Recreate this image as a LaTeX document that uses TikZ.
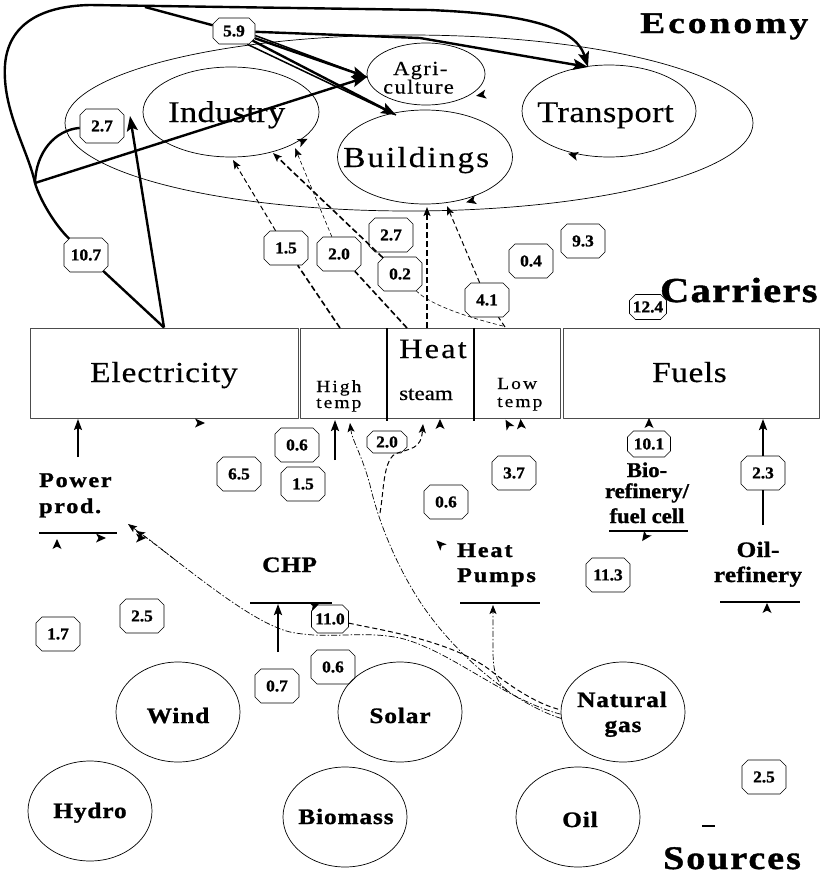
\documentclass[tikz,border=0pt]{standalone}
\usepackage{fontspec}
\setmainfont{Liberation Serif}
\usetikzlibrary{shapes.geometric,shapes.misc,arrows.meta}
\newcommand\FS[2]{\addfontfeatures{FakeStretch=#1,LetterSpace=#2,FakeBold=0.4}}
\newcommand\FB[2]{\addfontfeatures{FakeStretch=#1,LetterSpace=#2,FakeBold=1.2}}
\newcommand\fs[1]{\fontsize{#1}{#1}\selectfont}
\tikzset{
 ell/.style={draw, ellipse, line width=0.7pt, inner sep=0pt},
 src/.style={ell, minimum width=124pt, minimum height=100pt},
 cbox/.style={draw=black!70, line width=1pt, rectangle, inner sep=0pt},
 lab/.style={draw, line width=0.6pt, chamfered rectangle, chamfered rectangle sep=3pt, inner sep=0pt, minimum width=44pt, minimum height=34pt, font=\fs{16.5}\bfseries\FB{1.05}{0}},
 thk/.style={line width=2.4pt},
 tipL/.style={-{Stealth[length=15pt,width=11pt,inset=3pt]}},
 tipS/.style={-{Stealth[length=9pt,width=7pt,inset=2pt]}},
 tipM/.style={-{Stealth[length=11pt,width=8pt,inset=2pt]}},
 dsh/.style={line width=0.6pt, dash pattern=on 4pt off 2.5pt},
 dsm/.style={line width=1pt, dash pattern=on 5pt off 3pt},
 dshk/.style={line width=1.6pt, dash pattern=on 6pt off 3pt},
 ddot/.style={line width=0.7pt, dash pattern=on 6pt off 2pt on 1.5pt off 2pt},
 txt/.style={inner sep=0pt, anchor=base west},
 ctxt/.style={inner sep=0pt, anchor=base},
 srct/.style={ctxt, font=\fs{22}\bfseries\FB{1.15}{4}},
 tk/.pic={\fill (5,0) -- (-5,-4.5) -- (-2.5,0) -- (-5,4.5) -- cycle;}
}
\begin{document}
\begin{tikzpicture}[x=1pt,y=-1pt,line join=round]
\useasboundingbox (0,0) rectangle (821,878);

% ---------- Economy ----------
\node[ell, minimum width=688pt, minimum height=176pt] (eco) at (409,123) {};
\node[ell, minimum width=176pt, minimum height=90pt] (ind) at (231,112) {};
\node[ell, minimum width=118pt, minimum height=62pt] (agr) at (426,74) {};
\node[ell, minimum width=175pt, minimum height=94pt] (bui) at (425,157) {};
\node[ell, minimum width=174pt, minimum height=92pt] (tra) at (609,111) {};
\node[txt, font=\fs{30}\FS{1.15}{1}] (tind) at (168,122) {Industry};
\node[txt, font=\fs{20}\FS{1.12}{7}] (tag1) at (393,75) {Agri-};
\node[txt, font=\fs{20}\FS{1.12}{7}] (tag2) at (383,93.5) {culture};
\node[txt, font=\fs{29}\FS{1.15}{7}] (tbu) at (343,167) {Buildings};
\node[txt, font=\fs{30}\FS{1.15}{1.5}] (ttr) at (537,122) {Transport};
\node[txt, font=\fs{30}\bfseries\FB{1.25}{10}] (teco) at (640,33) {Economy};
\node[txt, font=\fs{35}\bfseries\FB{1.15}{4}] (tcar) at (660,302) {Carriers};
\node[txt, font=\fs{33}\bfseries\FB{1.15}{6}] (tsrc) at (663,869) {Sources};

% ---------- Carriers ----------
\node[cbox, minimum width=268pt, minimum height=90pt] (elec) at (164,373) {};
\node[cbox, minimum width=260pt, minimum height=90pt] (heat) at (430,373) {};
\node[cbox, minimum width=256pt, minimum height=90pt] (fuel) at (691,373) {};
\draw[line width=2pt] (387,328) -- (387,421);
\draw[line width=2pt] (474,328) -- (474,421);
\node[txt, font=\fs{29}\FS{1.15}{3}] at (90,382) {Electricity};
\node[txt, font=\fs{28}\FS{1.15}{8}] at (399,358) {Heat};
\node[txt, font=\fs{17}\FS{1.15}{12}] at (316,392) {High};
\node[txt, font=\fs{17}\FS{1.15}{12}] at (316,408) {temp};
\node[txt, font=\fs{20}\FS{1.15}{0}] at (399,400) {steam};
\node[txt, font=\fs{17}\FS{1.15}{12}] at (497,389) {Low};
\node[txt, font=\fs{17}\FS{1.15}{12}] at (497,407) {temp};
\node[txt, font=\fs{29}\FS{1.15}{2}] at (652,382) {Fuels};

% ---------- Processes ----------
\node[txt, font=\fs{21}\bfseries\FB{1.15}{8}] at (39,487) {Power};
\node[txt, font=\fs{21}\bfseries\FB{1.15}{8}] at (39,513) {prod.};
\node[txt, font=\fs{22}\bfseries\FB{1.15}{3}] at (262,572) {CHP};
\node[txt, font=\fs{21}\bfseries\FB{1.15}{9}] at (457,557) {Heat};
\node[txt, font=\fs{21}\bfseries\FB{1.15}{9}] at (457,582) {Pumps};
\node[ctxt, font=\fs{21}\bfseries\FB{1.08}{0}] at (647,477) {Bio-};
\node[ctxt, font=\fs{21}\bfseries\FB{1.08}{0}] at (647,498) {refinery/};
\node[ctxt, font=\fs{21}\bfseries\FB{1.08}{0}] at (647,523) {fuel cell};
\node[ctxt, font=\fs{22}\bfseries\FB{1.15}{1}] at (758,557) {Oil-};
\node[ctxt, font=\fs{22}\bfseries\FB{1.15}{1}] at (758,582) {refinery};
\draw[line width=1.6pt] (39,533) -- (117,533);
\draw[line width=1.6pt] (250,603) -- (332,603);
\draw[line width=1.6pt] (460,603) -- (540,603);
\draw[line width=1.6pt] (609,531) -- (688,531);
\draw[line width=1.6pt] (720,602) -- (800,602);
\draw[line width=1.4pt] (702,826) -- (715,826);

% ---------- Sources ----------
\node[src] (wind) at (178,712) {};
\node[src] (hydro) at (90,811) {};
\node[src] (solar) at (400,712) {};
\node[src] (bio) at (345,817) {};
\node[src] (ng) at (623,712) {};
\node[src] (oil) at (578,817) {};
\node[srct] at (178,723) {Wind};
\node[srct] at (90,818) {Hydro};
\node[srct] at (400,723) {Solar};
\node[srct] at (346,824) {Biomass};
\node[srct] at (622,707) {Natural};
\node[srct] at (623,732) {gas};
\node[srct] at (580,827) {Oil};

% ---------- Value labels ----------
\node[lab, minimum width=42pt, minimum height=26pt] (l59) at (234,31) {5.9};
\node[lab] (l27a) at (102,126) {2.7};
\node[lab] (l107) at (86,255) {10.7};
\node[lab] (l15a) at (286,248) {1.5};
\node[lab] (l20a) at (339,254) {2.0};
\node[lab] (l27b) at (391,235) {2.7};
\node[lab] (l02) at (400,274) {0.2};
\node[lab] (l41) at (487,300) {4.1};
\node[lab] (l04) at (531,261) {0.4};
\node[lab] (l93) at (583,241) {9.3};
\node[lab, minimum width=37pt, minimum height=25pt] (l124) at (648,307) {12.4};
\node[lab] (l06a) at (297,445) {0.6};
\node[lab] (l65) at (239,474) {6.5};
\node[lab] (l15b) at (303,484) {1.5};
\node[lab, minimum width=40pt, minimum height=22pt] (l20b) at (387,442) {2.0};
\node[lab] (l37) at (514,473) {3.7};
\node[lab] (l06b) at (446,502) {0.6};
\node[lab, minimum width=43pt, minimum height=26pt] (l101) at (649,444) {10.1};
\node[lab] (l23) at (763,473) {2.3};
\node[lab] (l113) at (608,575) {11.3};
\node[lab] (l25a) at (142,616) {2.5};
\node[lab] (l17) at (58,634) {1.7};
\node[lab, minimum width=37pt, minimum height=28pt] (l110) at (330,619) {11.0};
\node[lab] (l07) at (277,686) {0.7};
\node[lab] (l06c) at (333,667) {0.6};
\node[lab] (l25b) at (764,777) {2.5};

% ---------- Electricity flows (thick) ----------
\coordinate (c1) at (35,183);
\coordinate (br) at (145,7);
\coordinate (top1) at (90,5);
\coordinate (top2) at (430,10);
\coordinate (mid1) at (420,38);
\coordinate (trTip) at (588,67);
\coordinate (agTip) at (367,77);
\coordinate (buTip) at (396,115);
\coordinate (inL) at (130,116);
\draw[thk] (elec.north) -- (l107);
\draw[thk, tipL] (l107) .. controls (55,225) and (40,200) .. (c1)
  .. controls (28,150) and (2,110) .. (5,65)
  .. controls (8,25) and (40,6) .. (top1) -- (top2)
  .. controls (520,14) and (575,25) .. (trTip);
\draw[thk] (c1) .. controls (36,152) and (55,130) .. (l27a);
\draw[thk, tipL] (c1) -- (agTip);
\draw[thk, tipL] (elec.north) -- (inL);
\draw[thk] (br) -- (l59);
\draw[thk, tipL] (l59) -- (mid1) -- (trTip);
\draw[thk, tipL] (l59) -- (agTip);
\draw[thk, tipL] (l59) -- (buTip);
\draw[line width=1.5pt] (l59.-12) -- (agTip);
\draw[line width=1.5pt] (l59.-45) -- (buTip);

% ---------- Heat flows (dashed) ----------
\coordinate (hA) at (340,328);
\coordinate (hB) at (407,328);
\coordinate (hC) at (503,326);
\coordinate (hD) at (427,328);
\coordinate (hE) at (505,327);
\coordinate (iA) at (233,160);
\coordinate (iB) at (273,153);
\coordinate (iC) at (295,148);
\coordinate (bA) at (427,207);
\coordinate (bB) at (447,206);
\draw[dshk] (hA) -- (l15a);
\draw[dsm, tipS] (l15a) -- (iA);
\draw[dshk] (hB) -- (l20a);
\draw[dsh, tipS] (l20a) -- (iC);
\draw[dsh] (hC) .. controls (470,318) and (430,305) .. (l02);
\draw[dshk, tipS] (l02) -- (iB);
\draw[dshk, tipS] (hD) -- (bA);
\draw[dsm] (hE) -- (l41);
\draw[dsm, tipS] (l41) -- (bB);

% ---------- Lower arrows ----------
\coordinate (ppA) at (78,457);
\coordinate (ppB) at (78,419);
\draw[line width=1.4pt, tipM] (ppA) -- (ppB);
\coordinate (htA) at (335,460);
\coordinate (htB) at (335,420);
\draw[line width=2pt, tipM] (htA) -- (htB);
\coordinate (chA) at (278,652);
\coordinate (chB) at (278,604);
\draw[line width=2pt, tipM] (chA) -- (chB);
\coordinate (orA) at (763,525);
\coordinate (orB) at (763,419);
\draw[line width=2pt] (orA) -- (l23);
\draw[line width=2pt, tipM] (l23) -- (orB);

% natural gas flows
\coordinate (pjA) at (128,524);
\coordinate (pjB) at (136,531);
\coordinate (pjC) at (178,562);
\coordinate (hiTip) at (350,423);
\coordinate (stA) at (380,513);
\coordinate (stTip) at (423,424);
\coordinate (hpA) at (507,690);
\coordinate (hpB) at (493,650);
\coordinate (hpTip) at (493,605);
\draw[ddot, tipS] (ng.182) .. controls (505,700) and (450,650) .. (400,638)
  .. controls (360,630) and (330,640) .. (290,632)
  .. controls (250,622) and (190,570) .. (pjA);
\draw[dsh, tipS] (pjC) .. controls (160,548) and (148,538) .. (pjB);
\draw[dsm] (l110) .. controls (380,630) and (450,640) .. (490,670)
  .. controls (515,690) and (540,705) .. (ng.178);
\draw[ddot, tipS] (ng.186) .. controls (510,702) and (450,650) .. (417,597)
  .. controls (395,562) and (378,520) .. (370,485)
  .. controls (362,455) and (352,440) .. (hiTip);
\draw[dsm, tipS] (stA) .. controls (384,490) and (383,462) .. (395,454)
  .. controls (410,448) and (421,450) .. (stTip);
\draw[ddot, tipS] (hpA) .. controls (495,682) and (493,668) .. (hpB) -- (hpTip);

% ---------- small arrowheads ----------
\pic[rotate=25] at (303,141) {tk};
\pic[rotate=190] at (481,95) {tk};
\pic[rotate=165] at (573,155) {tk};
\pic[rotate=195] at (471,201) {tk};
\pic at (200,423) {tk};
\pic[rotate=90] at (57,544) {tk};
\pic at (101,538) {tk};
\pic at (141,538) {tk};
\pic[rotate=20] at (315,605) {tk};
\pic[rotate=135] at (440,544) {tk};
\pic[rotate=235] at (645,537) {tk};
\pic[rotate=90] at (649,423) {tk};
\pic[rotate=90] at (767,608) {tk};
\pic[rotate=120] at (508,424) {tk};
\pic[rotate=95] at (521,424) {tk};
\pic[rotate=90] at (440,424) {tk};
\end{tikzpicture}
\end{document}
